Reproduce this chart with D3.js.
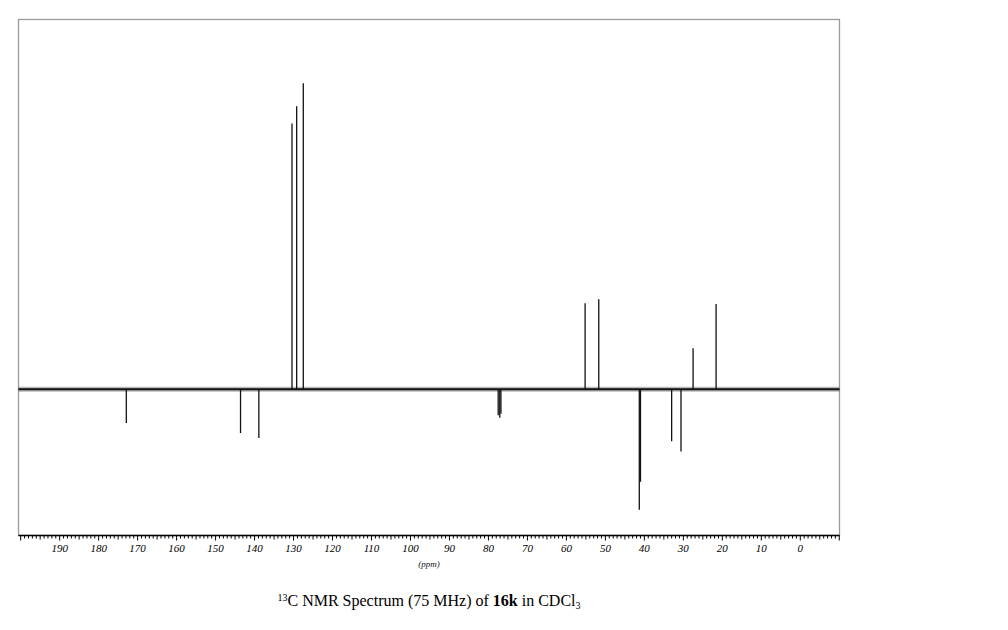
<!DOCTYPE html>
<html><head><meta charset="utf-8">
<script src="https://cdn.jsdelivr.net/npm/d3@7"></script>
<style>body{margin:0;background:#fff}svg{display:block}</style>
</head><body>
<script>
// Peak positions (ppm) and relative intensities (positive = up, negative = down)
const peakShifts = [172.9, 143.6, 138.9, 130.4, 129.2, 127.5, 77.5, 77.1, 76.8, 55.2, 51.7, 41.3, 41.0, 33.0, 30.6, 27.5, 21.6];
const peakIntensities = [-11.0, -14.3, -15.9, 86.8, 92.5, 100, -8.5, -9.3, -8.0, 28.1, 29.4, -39.3, -30.2, -17.0, -20.3, 13.4, 27.9];
const tickLabels = [190, 180, 170, 160, 150, 140, 130, 120, 110, 100, 90, 80, 70, 60, 50, 40, 30, 20, 10, 0];
const xDomain = [200.56, -10.06];
const yDomain = [-47.75, 120.8];

(function () {
const W = 1008, H = 630;
const SERIF = "'Liberation Serif', 'Times New Roman', Times, serif";
const svg = d3.select("body").append("svg").attr("width", W).attr("height", H);
const mLeft = 18.5, mRight = 839.5, mTop = 19.5, mBottom = 535.5;

const x = d3.scaleLinear().domain(xDomain).range([mLeft, mRight]);
const y = d3.scaleLinear().domain(yDomain).range([mBottom, mTop]);

// frame
svg.append("rect").attr("x", mLeft).attr("y", mTop).attr("width", mRight - mLeft).attr("height", mBottom - mTop)
  .attr("fill", "none").attr("stroke", "#9a9a9a").attr("stroke-width", 1.3);

// baseline noise band
svg.append("line").attr("x1", mLeft).attr("x2", mRight).attr("y1", y(0)).attr("y2", y(0))
  .attr("stroke", "#666").attr("stroke-width", 5).attr("opacity", 0.45);
svg.append("line").attr("x1", mLeft).attr("x2", mRight).attr("y1", y(0)).attr("y2", y(0))
  .attr("stroke", "#111").attr("stroke-width", 2);

// peaks
svg.append("g").selectAll("line").data(peakShifts.map((s, i) => ({s, v: peakIntensities[i]})))
  .join("line")
  .attr("x1", d => x(d.s)).attr("x2", d => x(d.s))
  .attr("y1", y(0)).attr("y2", d => y(d.v))
  .attr("stroke", "#111").attr("stroke-width", 1.3);

// bottom axis
const minorTicks = d3.range(200, -10.5, -1);
const axisG = svg.append("g").attr("transform", `translate(0,${mBottom})`);
axisG.append("line").attr("x1", mLeft).attr("x2", mRight).attr("stroke", "#000").attr("stroke-width", 1.6);
axisG.selectAll("line.minor").data(minorTicks).join("line").attr("class", "minor")
  .attr("x1", d => x(d)).attr("x2", d => x(d)).attr("y1", 0)
  .attr("y2", d => (d % 10 === 0 ? 5 : (d % 5 === 0 ? 4 : 3)))
  .attr("stroke", "#000").attr("stroke-width", 1);
axisG.selectAll("text").data(tickLabels).join("text")
  .attr("x", d => x(d)).attr("y", 16)
  .attr("text-anchor", "middle")
  .attr("font-family", SERIF)
  .attr("font-style", "italic").attr("font-size", 11).attr("fill", "#000")
  .text(d => d);

svg.append("text").attr("x", 429).attr("y", 567).attr("text-anchor", "middle")
  .attr("font-family", SERIF)
  .attr("font-style", "italic").attr("font-size", 9).attr("fill", "#111").text("(ppm)");

// caption
const cap = svg.append("text").attr("x", 429).attr("y", 606).attr("text-anchor", "middle")
  .attr("font-family", SERIF).attr("font-size", 16).attr("fill", "#000");
cap.append("tspan").attr("font-size", 10).attr("dy", -5).text("13");
cap.append("tspan").attr("dy", 5).text("C NMR Spectrum (75 MHz) of ");
cap.append("tspan").attr("font-weight", "bold").text("16k");
cap.append("tspan").text(" in CDCl");
cap.append("tspan").attr("font-size", 10).attr("dy", 3).text("3");
})();
</script>
</body></html>
